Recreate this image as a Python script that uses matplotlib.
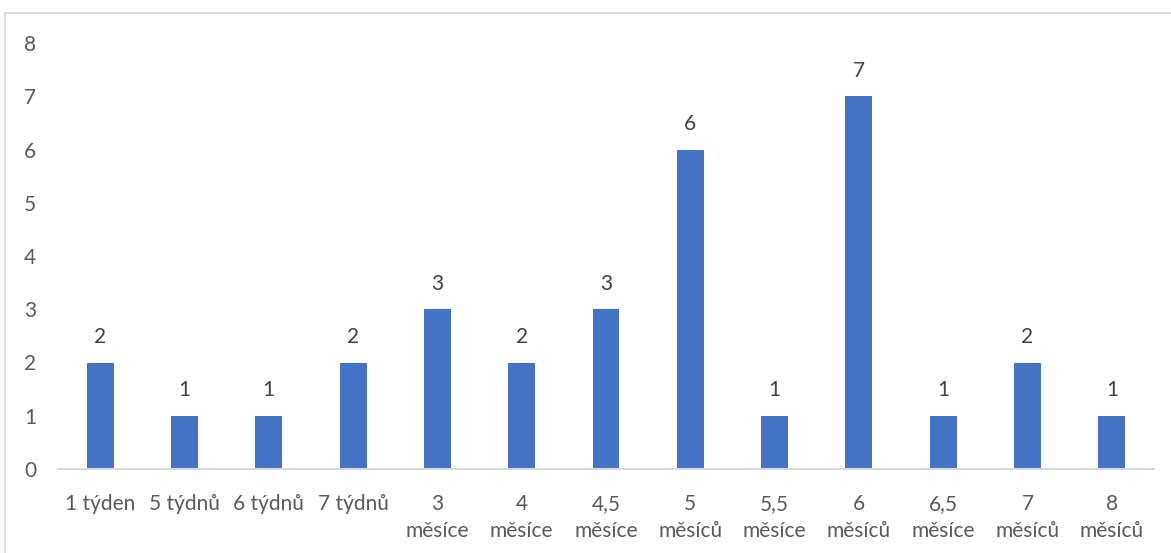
import matplotlib.pyplot as plt
from matplotlib.patches import Rectangle

categories = ["1 týden", "5 týdnů", "6 týdnů", "7 týdnů", "3\nměsíce", "4\nměsíce",
              "4,5\nměsíce", "5\nměsíců", "5,5\nměsíce", "6\nměsíců", "6,5\nměsíce",
              "7\nměsíců", "8\nměsíců"]
counts = [2, 1, 1, 2, 3, 2, 3, 6, 1, 7, 1, 2, 1]

plt.rcParams['font.family'] = ['Lato', 'DejaVu Sans']
text_color = '#595959'
bar_color = '#4472C4'

fig = plt.figure(figsize=(11.71, 5.53), dpi=100)
ax = fig.add_axes([58 / 1171, 1 - 469 / 553, (1154 - 58) / 1171, (469 - 43) / 553])

x = range(len(categories))
bars = ax.bar(x, counts, width=0.32, color=bar_color, zorder=2)
ax.bar_label(bars, labels=[str(c) for c in counts], padding=11, fontsize=15, color='#404040')

ax.set_xlim(-0.5, len(categories) - 0.5)
ax.set_ylim(0, 8)
ax.set_yticks(range(0, 9))
ax.set_xticks(list(x))
ax.set_xticklabels(categories, fontsize=15, color=text_color, linespacing=1.45)
ax.tick_params(axis='x', length=0, pad=18)
ax.tick_params(axis='y', length=0, pad=20, labelsize=15, labelcolor=text_color)
for lbl in ax.get_yticklabels():
    lbl.set_horizontalalignment('center')

for side in ['top', 'right', 'left']:
    ax.spines[side].set_visible(False)
ax.spines['bottom'].set_color('#D9D9D9')
ax.spines['bottom'].set_linewidth(1.5)

# light frame around the chart area
fig.patches.append(Rectangle((5 / 1171, -0.1), 1.2, 1 - 13 / 553 + 0.1,
                             transform=fig.transFigure, fill=False,
                             edgecolor='#D9D9D9', linewidth=1.2))

fig.savefig('out.png', dpi=100)
